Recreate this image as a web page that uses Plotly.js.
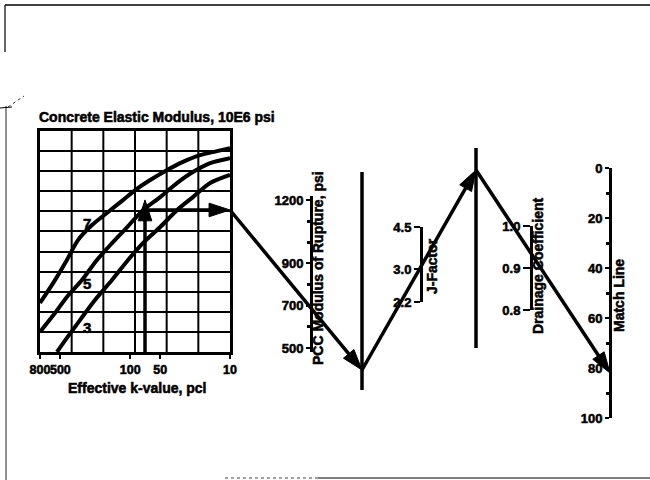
<!DOCTYPE html>
<html><head><meta charset="utf-8">
<script src="https://cdn.plot.ly/plotly-3.0.1.min.js"></script>
<style>html,body{margin:0;padding:0;background:#fff}#chart{width:650px;height:480px}
#chart svg text{stroke:#000;stroke-width:0.55px;paint-order:stroke}</style>
</head><body><div id="chart"></div>
<script>
// ---------------- data ----------------
// Grid chart: x = effective k-value (pci, log, reversed), y = grid row (0..11)
const kTickVals = [800, 500, 100, 50, 10];
const kTickText = ['800', '500', '100', '50', '10'];
const curveNames = ['7', '5', '3'];            // concrete elastic modulus, 10E6 psi
const curve7K   = [800, 566, 430, 333, 241, 171, 118, 89, 63, 43, 30, 20, 13.5, 10];
const curve7Row = [2.44, 3.58, 4.58, 5.57, 6.32, 6.92, 7.56, 8.06, 8.56, 9.05, 9.45, 9.80, 10.0, 10.15];
const curve5K   = [800, 566, 430, 304, 215, 152, 107, 74.5, 50, 34, 23.5, 15.8, 10];
const curve5Row = [1.0, 1.94, 2.74, 3.58, 4.58, 5.42, 6.22, 7.06, 7.71, 8.41, 8.96, 9.40, 9.65];
const curve3K   = [541, 430, 318, 225, 152, 105, 74.5, 50, 34, 23.5, 15.8, 10];
const curve3Row = [0, 0.70, 1.59, 2.59, 3.58, 4.58, 5.42, 6.22, 7.06, 7.71, 8.41, 8.81];
const curveLabelK = [270, 270, 270];
const curveLabelRow = [6.42, 3.43, 1.24];
// Example entry in the grid
const exampleUpK = [71, 71];
const exampleUpRow = [0, 7.57];
const exampleAcrossK = [71, 10];
const exampleAcrossRow = [7.07, 7.07];
// Nomograph scales
const pccTicks = [1200, 900, 700, 500];
const pccMinor = [600, 800, 1000, 1100];
const jTicks = [4.5, 3.0, 2.2];
const jTickText = ['4.5', '3.0', '2.2'];
const cdTicks = [1.0, 0.9, 0.8];
const cdTickText = ['1.0', '0.9', '0.8'];
const matchTicks = [0, 20, 40, 60, 80, 100];
const matchMinor = [10, 30, 50, 70, 90];
// Example path through the nomograph (figure canvas units, px)
const pathX = [230, 362, 476, 610];
const pathY = [210, 370, 170, 373];

// ---------------- layout helpers ----------------
const W = 650, H = 480;
const px = x => x / W, py = y => 1 - y / H;
const FAM = 'Liberation Sans, Arial, Helvetica, sans-serif';
const bold = (s) => ({family: FAM, size: s, color: '#000', weight: 700});
const B = (t) => '<b>' + t + '</b>';
const BLACK = '#000';

const traces = [];
const curveLine = {color: BLACK, width: 4, shape: 'spline', smoothing: 0.8};
[[curve7K, curve7Row], [curve5K, curve5Row], [curve3K, curve3Row]].forEach((c, i) => {
  traces.push({type: 'scatter', mode: 'lines', x: c[0], y: c[1], xaxis: 'x', yaxis: 'y',
    line: curveLine, name: curveNames[i], showlegend: false, hoverinfo: 'skip'});
});
const arrowMarker = (n) => ({symbol: 'arrow', angleref: 'previous', color: BLACK, opacity: 1,
  size: Array.from({length: n}, (_, i) => i === n - 1 ? 22 : 0), line: {width: 1, color: BLACK}});
traces.push({type: 'scatter', mode: 'lines+markers', x: exampleUpK, y: exampleUpRow,
  xaxis: 'x', yaxis: 'y', line: {color: BLACK, width: 3.5}, marker: arrowMarker(2),
  showlegend: false, hoverinfo: 'skip', cliponaxis: false});
traces.push({type: 'scatter', mode: 'lines+markers', x: exampleAcrossK, y: exampleAcrossRow,
  xaxis: 'x', yaxis: 'y', line: {color: BLACK, width: 3.5}, marker: arrowMarker(2),
  showlegend: false, hoverinfo: 'skip', cliponaxis: false});
// path segments on canvas
for (let i = 0; i < pathX.length - 1; i++) {
  traces.push({type: 'scatter', mode: 'lines+markers', x: [pathX[i], pathX[i + 1]], y: [pathY[i], pathY[i + 1]],
    xaxis: 'x2', yaxis: 'y2', line: {color: BLACK, width: 3.5}, marker: arrowMarker(2),
    showlegend: false, hoverinfo: 'skip', cliponaxis: false});
}
// empty traces so each scale axis gets a subplot
['y3', 'y4', 'y5', 'y6'].forEach(ya => traces.push({type: 'scatter', mode: 'none', x: [], y: [],
  xaxis: 'x2', yaxis: ya, showlegend: false, hoverinfo: 'skip'}));

const scaleAxis = (o) => Object.assign({
  anchor: 'free', side: 'left', showline: true, linewidth: 3, linecolor: BLACK,
  ticks: 'outside', ticklen: 4, tickwidth: 2, tickcolor: BLACK, tickfont: bold(13),
  showgrid: false, zeroline: false, fixedrange: true, tickmode: 'array', ticklabelstandoff: 0
}, o);

const shapes = [];
for (let i = 1; i < 6; i++) {
  shapes.push({type: 'line', xref: 'x domain', yref: 'y domain', x0: i / 6, x1: i / 6, y0: 0, y1: 1,
    line: {color: BLACK, width: 2}, layer: 'below'});
}
// pivot lines
shapes.push({type: 'line', xref: 'paper', yref: 'paper', x0: px(362), x1: px(362), y0: py(172), y1: py(390), line: {color: BLACK, width: 3.5}});
shapes.push({type: 'line', xref: 'paper', yref: 'paper', x0: px(476), x1: px(476), y0: py(148), y1: py(348), line: {color: BLACK, width: 3.5}});
// page border remnants
shapes.push({type: 'line', xref: 'paper', yref: 'paper', x0: px(5), x1: 1, y0: py(5), y1: py(5), line: {color: BLACK, width: 1.5}});
shapes.push({type: 'line', xref: 'paper', yref: 'paper', x0: px(5), x1: px(5), y0: py(5), y1: py(52), line: {color: BLACK, width: 1.2}});
shapes.push({type: 'line', xref: 'paper', yref: 'paper', x0: px(6), x1: px(6), y0: py(106), y1: py(480), line: {color: '#222', width: 1}});
shapes.push({type: 'line', xref: 'paper', yref: 'paper', x0: px(318), x1: 1, y0: py(478), y1: py(478), line: {color: BLACK, width: 1.2}});
shapes.push({type: 'line', xref: 'paper', yref: 'paper', x0: px(225), x1: px(318), y0: py(478), y1: py(478), line: {color: '#444', width: 1, dash: 'dot'}});
shapes.push({type: 'line', xref: 'paper', yref: 'paper', x0: px(0), x1: px(12), y0: py(108), y1: py(107), line: {color: BLACK, width: 1}});
shapes.push({type: 'line', xref: 'paper', yref: 'paper', x0: px(8), x1: px(24), y0: py(107), y1: py(96), line: {color: '#333', width: 1, dash: 'dot'}});

const rot = (x, y, t) => ({xref: 'paper', yref: 'paper', x: px(x), y: py(y), xanchor: 'center', yanchor: 'middle',
  textangle: -90, showarrow: false, text: B(t), font: bold(14)});
const annotations = [
  {xref: 'paper', yref: 'paper', x: px(37), y: py(117), xanchor: 'left', yanchor: 'middle', showarrow: false,
   text: B('Concrete Elastic Modulus, 10E6 psi'), font: bold(14)},
  {xref: 'paper', yref: 'paper', x: px(137), y: py(388), xanchor: 'center', yanchor: 'middle', showarrow: false,
   text: B('Effective k-value, pcl'), font: bold(14)},
  rot(318, 268, 'PCC Modulus of Rupture, psi'),
  rot(432, 266, 'J-Factor'),
  rot(538, 266, 'Drainage Coefficient'),
  rot(619, 296, 'Match Line')
];
curveNames.forEach((n, i) => annotations.push({xref: 'x', yref: 'y', x: Math.log10(curveLabelK[i]), y: curveLabelRow[i],
  text: B(n), showarrow: false, font: bold(15)}));

const layout = {
  width: W, height: H, margin: {l: 0, r: 0, t: 0, b: 0}, showlegend: false,
  paper_bgcolor: '#fff', plot_bgcolor: 'rgba(0,0,0,0)',
  xaxis: {domain: [px(40), px(230)], type: 'log', range: [Math.log10(800), 1], anchor: 'y',
    tickmode: 'array', tickvals: kTickVals, ticktext: kTickText.map(B), tickangle: 0, ticks: 'outside', ticklen: 4, tickwidth: 2,
    tickcolor: BLACK, tickfont: bold(12.5), showgrid: false, zeroline: false, showline: true, linewidth: 3,
    linecolor: BLACK, mirror: true, fixedrange: true},
  yaxis: {domain: [py(352), py(131)], range: [0, 11], anchor: 'x', tick0: 0, dtick: 1, showgrid: true,
    gridcolor: BLACK, gridwidth: 2, showticklabels: false, ticks: '', zeroline: false, showline: true,
    linewidth: 3, linecolor: BLACK, mirror: true, fixedrange: true},
  xaxis2: {domain: [0, 1], range: [0, W], anchor: 'y2', visible: false, fixedrange: true},
  yaxis2: {domain: [0, 1], range: [H, 0], anchor: 'x2', visible: false, fixedrange: true},
  yaxis3: scaleAxis({domain: [py(352), py(196)], range: [481, 1219], position: px(311), tickvals: pccTicks,
    ticktext: pccTicks.map(v => B(v)),
    minor: {tickmode: 'array', tickvals: pccMinor, ticks: 'outside', ticklen: 3, tickwidth: 3, tickcolor: BLACK}}),
  yaxis4: scaleAxis({type: 'log', domain: [py(302), py(227)], range: [Math.log10(2.2), Math.log10(4.5)],
    position: px(421), tickvals: jTicks, ticktext: jTickText.map(B), ticklen: 6}),
  yaxis5: scaleAxis({domain: [py(310), py(226)], range: [0.8, 1.0], position: px(531),
    tickvals: cdTicks, ticktext: cdTickText.map(B), ticklen: 7}),
  yaxis6: scaleAxis({domain: [py(418), py(168)], range: [100, 0], position: px(610), tickvals: matchTicks,
    ticktext: matchTicks.map(v => B(v)),
    minor: {tickmode: 'array', tickvals: matchMinor, ticks: 'outside', ticklen: 3, tickwidth: 3, tickcolor: BLACK}}),
  shapes: shapes,
  annotations: annotations
};

Plotly.newPlot('chart', traces, layout, {displayModeBar: false, staticPlot: true});
</script>
</body></html>
